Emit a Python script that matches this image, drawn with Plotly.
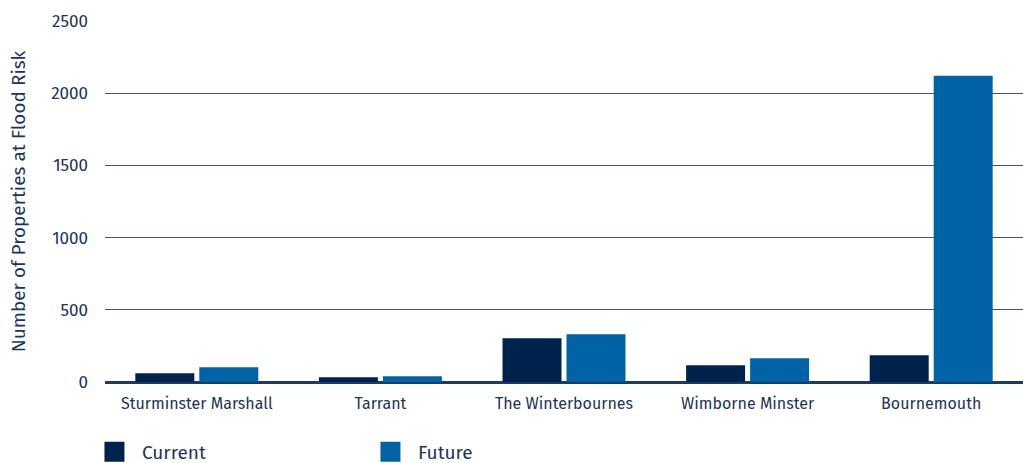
import plotly.graph_objects as go

categories = ["Sturminster Marshall", "Tarrant", "The Winterbournes", "Wimborne Minster", "Bournemouth"]
current = [60, 33, 303, 116, 185]
future = [102, 40, 331, 165, 2120]
y_ticks = [0, 500, 1000, 1500, 2000, 2500]
series_names = ["Current", "Future"]

navy = "#00234D"
blue = "#0063A6"
text_col = "#1B3459"
font_family = "Fira Sans, Noto Sans, Open Sans, sans-serif"

fig = go.Figure()
fig.add_trace(go.Bar(name=series_names[0], x=categories, y=current, marker=dict(color=navy, line_width=0), showlegend=False))
fig.add_trace(go.Bar(name=series_names[1], x=categories, y=future, marker=dict(color=blue, line_width=0), showlegend=False))
# legend-only entries with larger square swatches
for nm, col in zip(series_names, [navy, blue]):
    fig.add_trace(go.Scatter(name=nm, x=[None], y=[None], mode="markers",
                             marker=dict(symbol="square", size=16, color=col, line=dict(color=col, width=4)),
                             showlegend=True))

fig.update_layout(
    width=1023, height=463,
    margin=dict(l=105, r=0, t=21, b=81),
    paper_bgcolor="white", plot_bgcolor="white",
    barmode="group", bargap=0.303, bargroupgap=0.078,
    font=dict(family=font_family, color=text_col),
    showlegend=True,
    legend=dict(orientation="h", xref="container", x=0.085, xanchor="left",
                yref="container", y=0.024, yanchor="middle",
                font=dict(size=19, color=text_col), entrywidth=216, entrywidthmode="pixels",
                itemwidth=45, itemsizing="trace", bgcolor="rgba(0,0,0,0)"),
    xaxis=dict(showgrid=False, showline=False, ticks="outside", ticklen=7, tickcolor="rgba(0,0,0,0)",
               tickfont=dict(size=16, color=text_col), automargin=False),
    yaxis=dict(range=[0, 2500], tickvals=y_ticks, showgrid=True, gridcolor="#3F5676", gridwidth=1,
               zeroline=True, zerolinecolor="#1E3A60", zerolinewidth=2.5,
               ticks="", ticklabelstandoff=16, tickfont=dict(size=17, color=text_col), automargin=False,
               title=dict(text="Number of Properties at Flood Risk", font=dict(size=19, color=text_col), standoff=20)),
)

fig.write_html("out.html")
